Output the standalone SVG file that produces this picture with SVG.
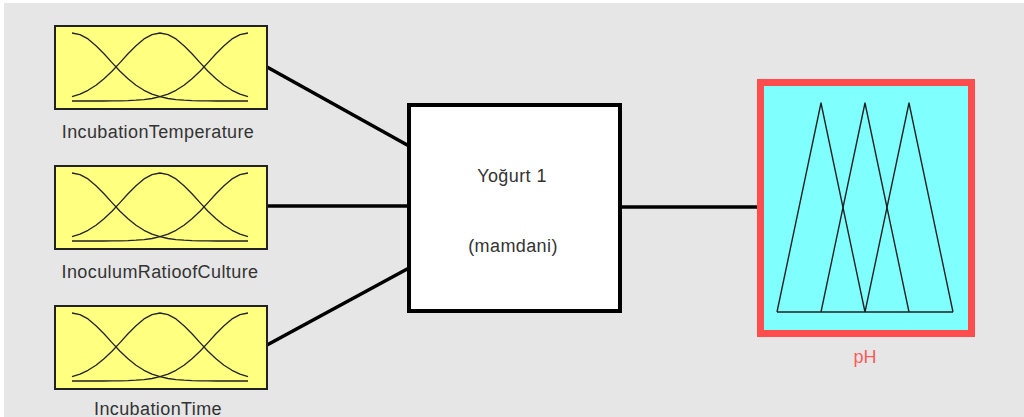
<svg xmlns="http://www.w3.org/2000/svg" xmlns:xlink="http://www.w3.org/1999/xlink" width="1024" height="417" viewBox="0 0 1024 417">
  <style>
    .label { font-family: "Liberation Sans", Arial, sans-serif; font-size: 18px; letter-spacing: 0.4px; fill: #333333; text-anchor: middle; }
    .out-label { font-family: "Liberation Sans", Arial, sans-serif; font-size: 18px; fill: #ff5a5a; text-anchor: middle; }
    .in-box { fill: #ffff80; stroke: #222222; stroke-width: 2; }
    .mf { fill: none; stroke: #222222; stroke-width: 1.3; stroke-linejoin: round; }
    .wire { stroke: #000000; stroke-width: 3.5; fill: none; }
  </style>
  <defs>
    <!-- three gaussian membership functions, drawn relative to the box's top-left corner -->
    <g id="gauss3">
      <path class="mf" d="M18,8 L26,9.6 L34,13.9 L42,20.7 L50,28.8 L58,37.6 L66,46.2 L74,53.8 L82,60.3 L90,65.3 L98,69.1 L106,71.7 L114,73.5 L122,74.6 L130,75.2 L138,75.6 L146,75.8 L154,75.9 L162,76 L194,76"/>
      <path class="mf" d="M194,8 L186,9.6 L178,13.9 L170,20.7 L162,28.8 L154,37.6 L146,46.2 L138,53.8 L130,60.3 L122,65.3 L114,69.1 L106,71.7 L98,73.5 L90,74.6 L82,75.2 L74,75.6 L66,75.8 L58,75.9 L50,76 L18,76"/>
      <path class="mf" d="M18,71.7 L26,69.1 L34,65.3 L42,60.3 L50,53.8 L58,46.2 L66,37.6 L74,28.8 L82,20.7 L90,13.9 L98,9.6 L106,8 L114,9.6 L122,13.9 L130,20.7 L138,28.8 L146,37.6 L154,46.2 L162,53.8 L170,60.3 L178,65.3 L186,69.1 L194,71.7"/>
    </g>
  </defs>

  <!-- canvas -->
  <rect x="0" y="0" width="1024" height="417" fill="#ffffff"/>
  <rect x="4" y="3" width="1020" height="414" fill="#e6e6e6"/>

  <!-- connectors -->
  <g id="connectors">
    <line class="wire" x1="267" y1="67" x2="409" y2="146"/>
    <line class="wire" x1="267" y1="206" x2="409" y2="206"/>
    <line class="wire" x1="267" y1="345" x2="409" y2="268"/>
    <line class="wire" x1="620" y1="207" x2="758" y2="207"/>
  </g>

  <!-- inputs -->
  <g id="input-incubation-temperature">
    <rect class="in-box" x="55" y="26" width="212" height="83"/>
    <use xlink:href="#gauss3" href="#gauss3" transform="translate(54,25)"/>
    <text class="label" x="158" y="138">IncubationTemperature</text>
  </g>
  <g id="input-inoculum-ratio">
    <rect class="in-box" x="55" y="166" width="212" height="83"/>
    <use xlink:href="#gauss3" href="#gauss3" transform="translate(54,165)"/>
    <text class="label" x="160" y="278">InoculumRatioofCulture</text>
  </g>
  <g id="input-incubation-time">
    <rect class="in-box" x="55" y="306" width="212" height="83"/>
    <use xlink:href="#gauss3" href="#gauss3" transform="translate(54,305)"/>
    <text class="label" x="158" y="415">IncubationTime</text>
  </g>

  <!-- inference system -->
  <g id="fis">
    <rect x="409" y="105" width="211" height="206" fill="#ffffff" stroke="#000000" stroke-width="4"/>
    <text class="label" x="512" y="182">Yoğurt 1</text>
    <text class="label" x="513" y="252">(mamdani)</text>
  </g>

  <!-- output -->
  <g id="output-ph">
    <rect x="760.5" y="82.5" width="211" height="251" fill="#80ffff" stroke="#ff4d4d" stroke-width="7"/>
    <g fill="none" stroke="#222222" stroke-width="1.4" stroke-linejoin="round">
      <polyline points="777,312 821,103 865,312"/>
      <polyline points="821,312 865,103 909,312"/>
      <polyline points="865,312 909,103 953,312"/>
      <line x1="777" y1="312" x2="953" y2="312"/>
    </g>
    <text class="out-label" x="865" y="363">pH</text>
  </g>
</svg>
